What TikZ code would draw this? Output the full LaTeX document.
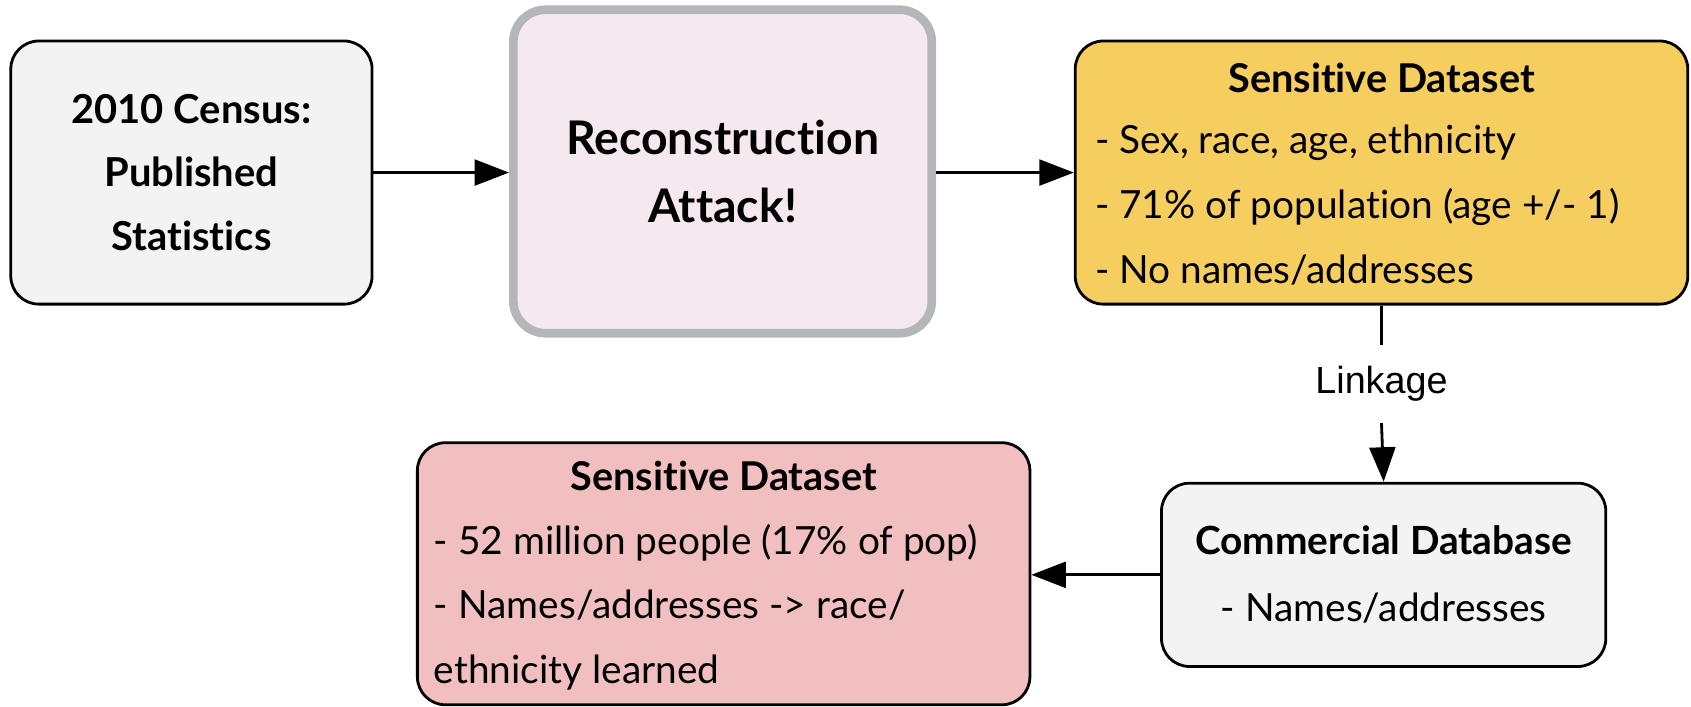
\documentclass[tikz,border=0pt]{standalone}
\usepackage{fontspec}
\setmainfont{Lato}[RawFeature={-liga;-dlig}]
\newfontfamily\labelfont{Liberation Sans}
\usetikzlibrary{arrows.meta}
\definecolor{boxgray}{HTML}{F3F3F3}
\definecolor{attackfill}{HTML}{F5E9EF}
\definecolor{attackrim}{HTML}{B4B7B9}
\definecolor{yellowfill}{HTML}{F6CD5F}
\definecolor{pinkfill}{HTML}{F2BFC0}
\tikzset{
  panel/.style={draw=black, line width=1.3pt, rounded corners=13pt, inner sep=0pt},
  bodytext/.style={font=\fontsize{18}{30}\selectfont, align=left, inner sep=0pt},
  headtext/.style={font=\bfseries\fontsize{18.4}{30}\selectfont, inner sep=0pt},
  flow/.style={line width=1.3pt, -{Triangle[length=16pt,width=12pt]}},
}
\begin{document}
\begin{tikzpicture}[x=0.5pt, y=-0.5pt]
\useasboundingbox (0,0) rectangle (1568,655);

% boxes
\node[panel, fill=boxgray, minimum width=167.5pt, minimum height=122pt,
      align=center, font=\bfseries\fontsize{18.5}{29.5}\selectfont]
  (census) at (177.5,160) {2010 Census:\\Published\\Statistics};
\node[draw=attackrim, line width=4pt, fill=attackfill, rounded corners=15pt,
      minimum width=194pt, minimum height=150pt, inner sep=0pt,
      align=center, font=\bfseries\fontsize{21.5}{31.5}\selectfont]
  (attack) at (670,159) {Reconstruction\\Attack!};
\node[panel, fill=yellowfill, minimum width=284pt, minimum height=122pt]
  (linked) at (1281,160) {};
\node[panel, fill=boxgray, minimum width=206pt, minimum height=85pt,
      align=center, font=\fontsize{18}{31}\selectfont]
  (commercial) at (1283,533) {\textbf{Commercial Database}\\- Names/addresses};
\node[panel, fill=pinkfill, minimum width=284pt, minimum height=121.5pt]
  (learned) at (671,532) {};

% box contents
\node[headtext] (linkedhead) at (1281,72) {Sensitive Dataset};
\node[bodytext, anchor=west] (linkedbody) at (1015,190)
  {- Sex, race, age, ethnicity\\- 71\% of population (age +/- 1)\\- No names/addresses};
\node[headtext] (learnedhead) at (671,441) {Sensitive Dataset};
\node[bodytext, anchor=west] (learnedbody) at (402,563)
  {- 52 million people (17\% of pop)\\- Names/addresses -> race/\\ethnicity learned};

% connectors
\draw[flow] (census.east) -- (census.east -| attack.west);
\draw[flow] (attack.east |- linked.west) -- (linked.west);
\node[font=\labelfont\fontsize{17.5}{20}\selectfont, inner sep=0pt, minimum height=36pt]
  (linkage) at (1281,356) {Linkage};
\draw[line width=1.3pt] (linked.south) -- (linkage.north);
\draw[flow] (linkage.south) -- (commercial.north);
\draw[flow] (commercial.west) -- (commercial.west -| learned.east);
\end{tikzpicture}
\end{document}
